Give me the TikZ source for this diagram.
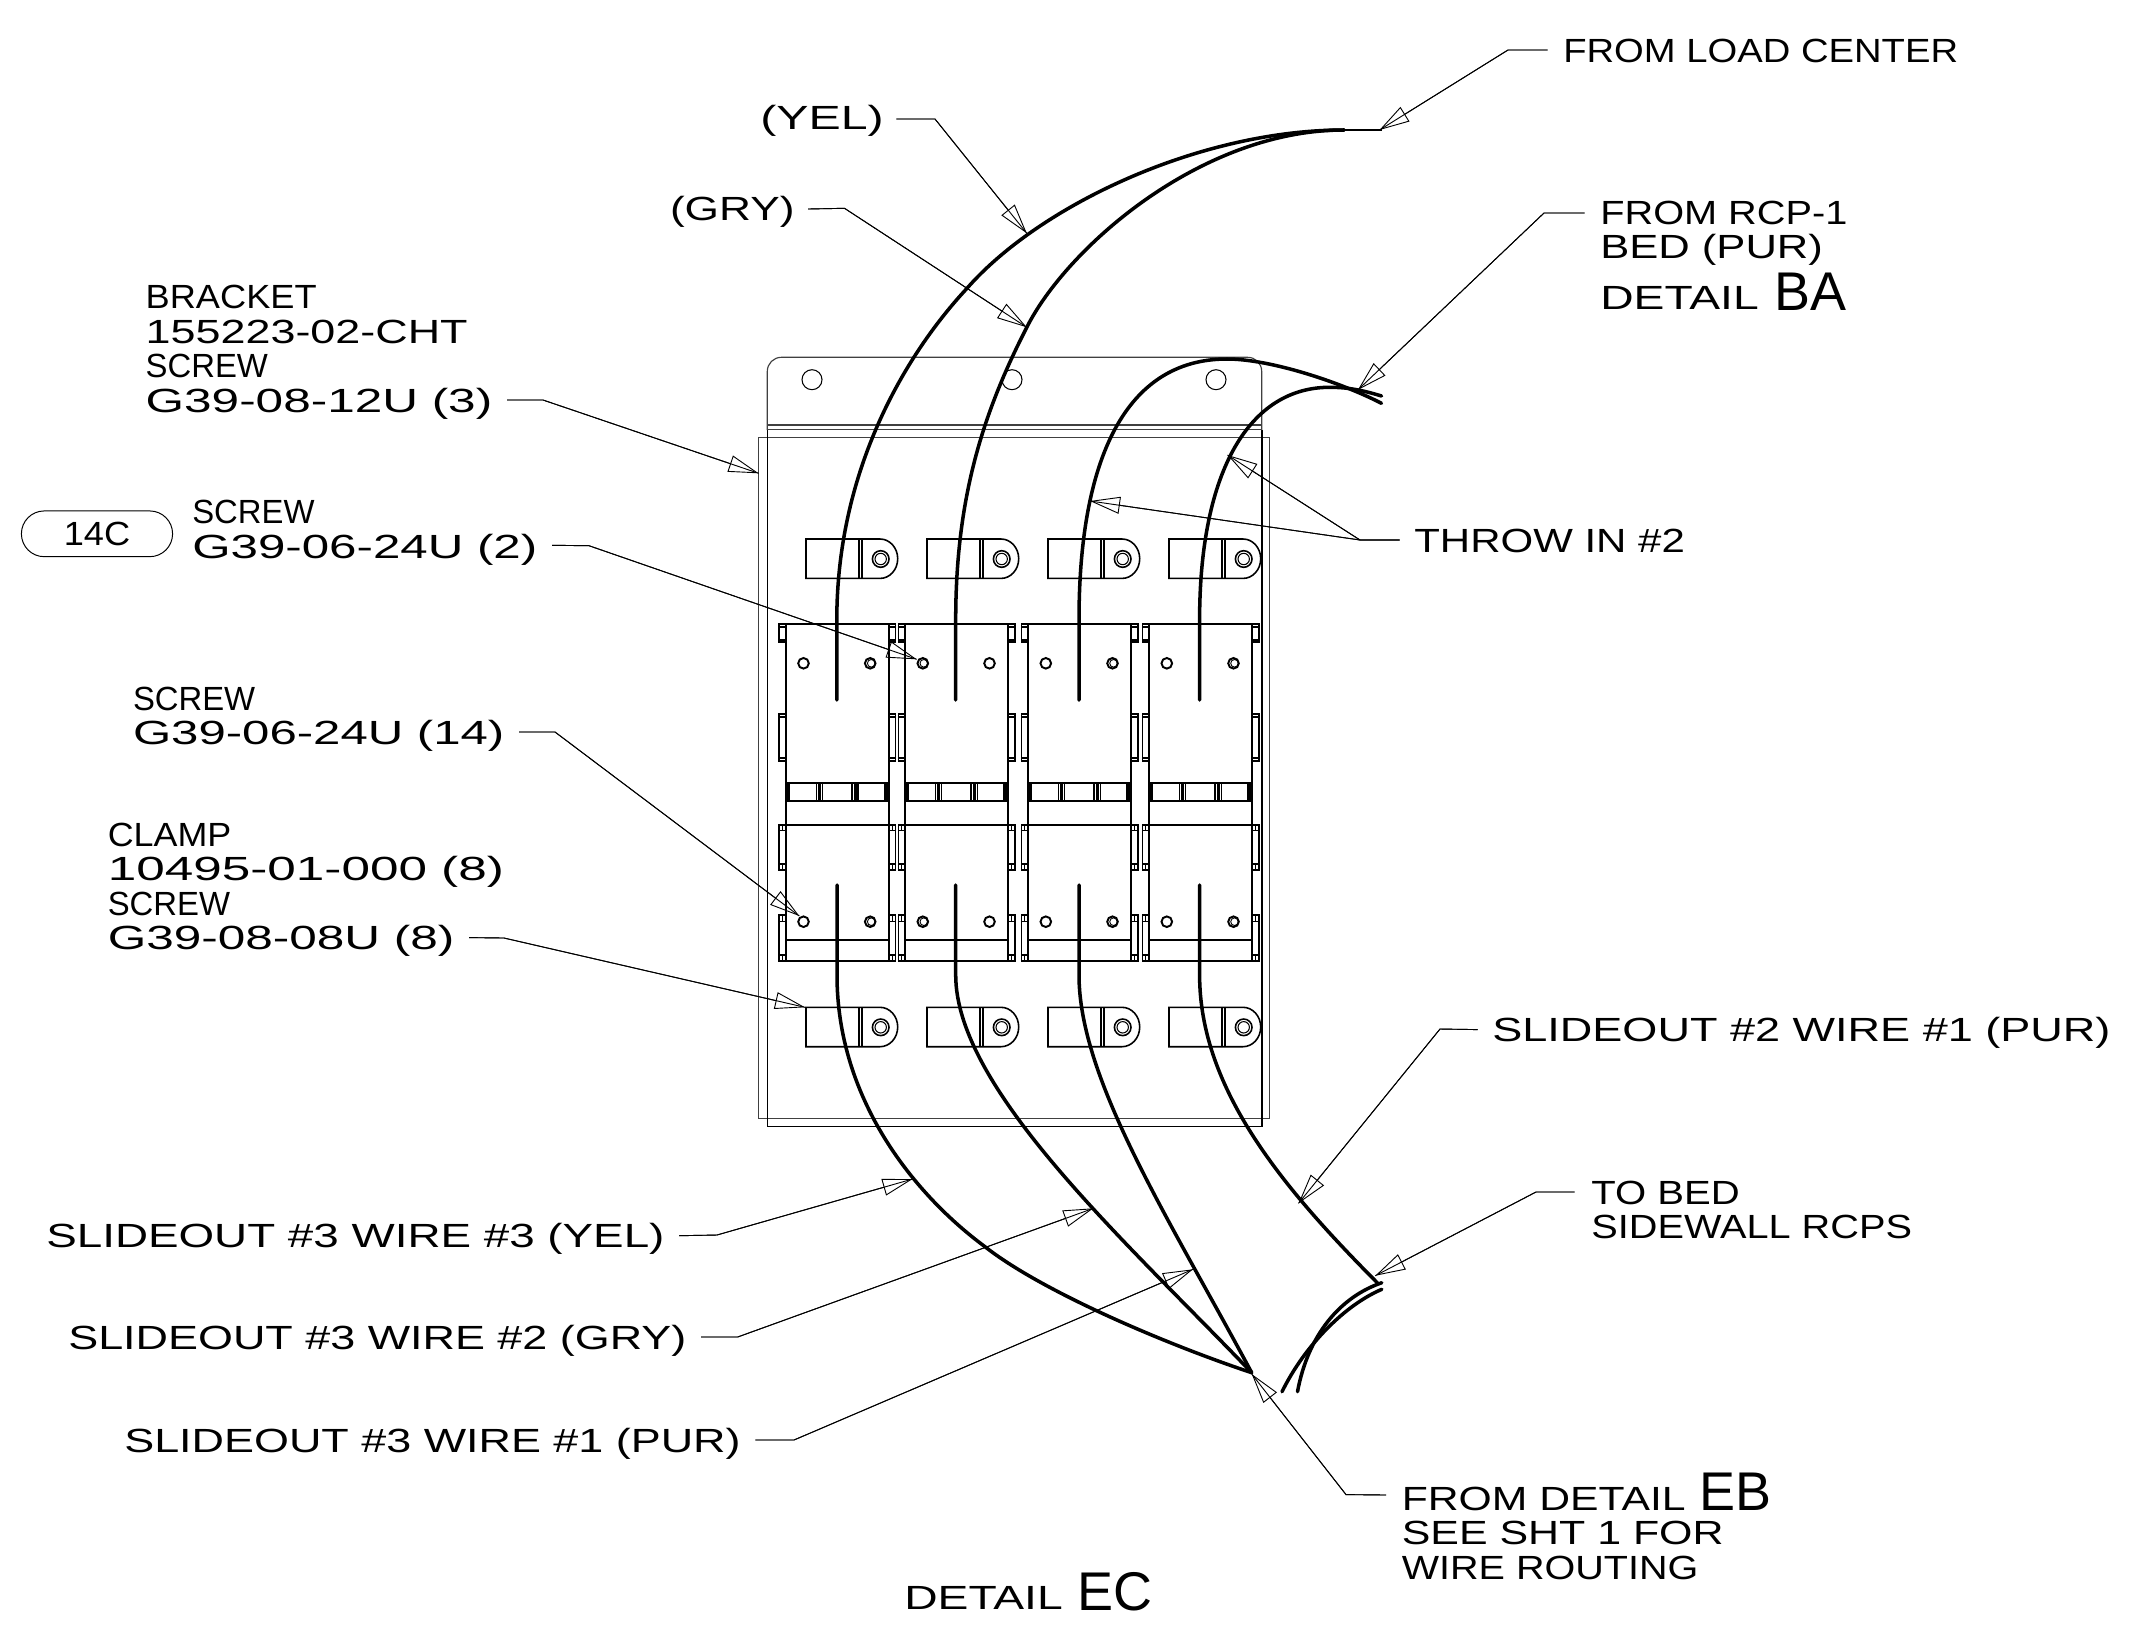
\documentclass[tikz,border=0pt]{standalone}
\usepackage{fontspec}
\usetikzlibrary{arrows.meta}
\setmainfont{Liberation Sans}
\newcommand\tf[1]{\fontspec[FakeStretch=#1]{Liberation Sans}\fontsize{9.53}{11}\selectfont}
\newcommand\bigf{\fontspec[FakeStretch=0.99]{Liberation Sans}\fontsize{15.5}{17}\selectfont}
\tikzset{
  x=0.01cm,y=-0.01cm,
  wt/.style={anchor=base west,inner sep=0pt},
  wire/.style={line width=1.0pt,line cap=round,line join=round},
  thinend/.style={line width=0.6pt},
  det/.style={line width=0.45pt,line join=miter},
  plate/.style={line width=0.33pt,draw=black!75},
  lead/.style={line width=0.26pt,postaction={draw,-{Triangle[open,length=0.30cm,width=0.17cm]}}},
  pill/.style={draw,line width=0.28pt,rounded corners=0.228cm,minimum width=1.511cm,minimum height=0.457cm,inner sep=0pt},
}
\begin{document}
\begin{tikzpicture}
\useasboundingbox (0,0) rectangle (2154,1648);
% plate
\draw[plate] (758.6,437.7) rectangle (1269.5,1118.3);
\draw[det] (767.3,430) -- (767.3,1126.3) -- (1261.7,1126.3) -- (1261.7,430);
\draw[plate] (767.3,425) -- (1261.7,425) (767.3,429.3) -- (1261.7,429.3);
\draw[plate] (767.3,430) -- (767.3,371.3) arc[start angle=180,end angle=270,radius=14] -- (1247.7,357.3) arc[start angle=270,end angle=360,radius=14] -- (1261.7,430);
\foreach \h in {812,1012,1216} \draw[line width=0.3pt] (\h,379.7) circle[radius=10];
% clamps
\foreach \c in {806,927,1048,1169}{
  \foreach \t in {539,1007.3}{
    \draw[det] (\c+74,\t) -- (\c,\t) -- (\c,\t+39.4) -- (\c+74,\t+39.4)
      arc[start angle=90,end angle=-90,x radius=17.7,y radius=19.7];
    \draw[det] (\c+52.7,\t) -- (\c+52.7,\t+39.4) (\c+56,\t) -- (\c+56,\t+39.4);
    \draw[det] (\c+74.7,\t+20) circle[radius=8.3];
    \draw[line width=0.3pt] (\c+74.7,\t+20) circle[radius=5.7];
  }
}
% switch units
\foreach \b/\sa/\sb/\sc/\sd in {785.7/0/1/0/1,905/1/0/1/0,1028/0/1/0/1,1149/0/1/0/1}{
  \pgfmathsetmacro\r{\b+103}
  \draw[det] (\b,624) -- (\b,960.7) (\r,624) -- (\r,960.7);
  \draw[line width=0.6pt] (\b,624) -- (\r,624);
  \draw[line width=0.6pt] (\b-6.7,824.7) -- (\r+6.7,824.7) (\b-6.7,960.7) -- (\r+6.7,960.7);
  \draw[det] (\b,939.7) -- (\r,939.7);
  % tabs
  \foreach \xa/\xb in {\b-6.7/\b,\r/\r+6.7}{
    \pgfmathsetmacro\xm{(\xa+\xb)/2}
    \draw[det] (\xa,624) rectangle (\xb,642);
    \draw[line width=0.3pt] (\xa,627) -- (\xb,627) (\xa,640) -- (\xb,640);
    \draw[det] (\xa,714) rectangle (\xb,760.7);
    \draw[line width=0.3pt] (\xa,717) -- (\xb,717) (\xa,758) -- (\xb,758);
    \draw[det] (\xa,824.7) rectangle (\xb,870);
    \draw[line width=0.3pt] (\xa,830.5) -- (\xb,830.5) (\xa,864) -- (\xb,864);
    \draw[det] (\xa,915) rectangle (\xb,960.7);
    \draw[line width=0.3pt] (\xa,921.5) -- (\xb,921.5) (\xa,955) -- (\xb,955);
    \draw[line width=0.3pt] (\xm,824.7) -- (\xm,830.5) (\xm,864) -- (\xm,870) (\xm,915) -- (\xm,921.5) (\xm,955) -- (\xm,960.7);
  }
  % bar
  \draw[det] (\b,783) -- (\r,783) (\b,801) -- (\r,801);
  \foreach \u/\v in {3.6/30.6,36.6/66,72.3/99}{
    \draw[det] (\b+\u,783) rectangle (\b+\v,801);
  }
  \draw[line width=0.8pt] (\b+1.5,783) -- (\b+1.5,801) (\b+33.7,783) -- (\b+33.7,801) (\b+69.5,783) -- (\b+69.5,801) (\r-1.5,783) -- (\r-1.5,801);
  % screws
  \foreach \yy in {663.3,921.7}{
    \draw[line width=0.55pt] (\b+17.8,\yy) circle[radius=5.3];
    \draw[line width=0.55pt] (\b+84.5,\yy) circle[radius=5.3];
  }
  \ifnum\sa=1 \draw[line width=0.25pt] (\b+18.8,663.3) circle[radius=3.8];\fi
  \ifnum\sb=1 \draw[line width=0.25pt] (\b+85.5,663.3) circle[radius=3.8];\fi
  \ifnum\sc=1 \draw[line width=0.25pt] (\b+18.8,921.7) circle[radius=3.8];\fi
  \ifnum\sd=1 \draw[line width=0.25pt] (\b+85.5,921.7) circle[radius=3.8];\fi
}
% upper wires
\draw[wire] (836.8,700) -- (836.8,620) .. controls (836.8,470) and (905,355) .. (967,288.3) .. controls (1040,205) and (1200,130) .. (1344,130);
\draw[wire] (955.7,700) -- (955.7,620) .. controls (955.7,500) and (981.8,415) .. (1026.8,327.3) .. controls (1066,249) and (1200,130) .. (1344,130);
\draw[thinend] (1344,130) -- (1381.5,130);
\draw[wire] (1079,700) -- (1079,620) .. controls (1079,460) and (1125,359) .. (1227,359) .. controls (1270,359) and (1340,382) .. (1381.5,403.3);
\draw[wire] (1199.6,700) -- (1199.6,620) .. controls (1199.6,470) and (1250,387) .. (1330,387.3) .. controls (1350,387.3) and (1365,391) .. (1381.5,396);
% lower wires
\draw[wire] (837,885) -- (837,975) .. controls (837,1100) and (915,1195) .. (985,1246.7) .. controls (1040,1290) and (1160,1342) .. (1251.7,1372.7);
\draw[wire] (955.7,885) -- (955.7,975) .. controls (955.7,1090) and (1130,1245) .. (1251.7,1372.7);
\draw[wire] (1079,885) -- (1079,975) .. controls (1079,1080) and (1170,1220) .. (1251.7,1372.7);
\draw[wire] (1199.6,885) -- (1199.6,975) .. controls (1199.6,1090) and (1285,1190) .. (1377.5,1283);
\draw[wire] (1381.8,1282.7) .. controls (1340,1297) and (1308,1335) .. (1297.5,1391.7);
\draw[wire] (1381.8,1289.3) .. controls (1345,1305) and (1305,1345) .. (1282,1391.7);
% text
\begin{scope}[shift={(-1.4,-1)}]
\node[wt] (tload) at (1564,63) {\tf{1.14}FROM LOAD CENTER};
\node[wt] (tyel) at (761,130) {\tf{1.44}(YEL)};
\node[wt] (tgry) at (670.7,221) {\tf{1.32}(GRY)};
\node[wt] (trcp) at (1601,225) {\tf{1.185}FROM RCP-1};
\node[wt] (tbed) at (1601,259.6) {\tf{1.30}BED (PUR)};
\node[wt] (tdba) at (1601,310.7) {\tf{1.38}DETAIL};
\node[wt] (tba) at (1775,311) {\bigf BA};
\node[wt] (tbr) at (146.4,309.7) {\tf{1.08}BRACKET};
\node[wt] (tbrn) at (146.4,344.7) {\tf{1.34}155223-02-CHT};
\node[wt] (tsc1) at (146.4,378.7) {\tf{0.98}SCREW};
\node[wt] (tg1) at (146.4,413) {\tf{1.477}G39-08-12U (3)};
\node[pill] (p14) at (98.4,534.8) {\tf{1.08}14C};
\node[wt] (tsc2) at (193,524.7) {\tf{0.98}SCREW};
\node[wt] (tg2) at (193,559.3) {\tf{1.47}G39-06-24U (2)};
\node[wt] (tthrow) at (1415,553) {\tf{1.253}THROW IN \#2};
\node[wt] (tsc3) at (133.7,711.6) {\tf{0.98}SCREW};
\node[wt] (tg3) at (133.7,745) {\tf{1.466}G39-06-24U (14)};
\node[wt] (tcl) at (108.5,847.7) {\tf{1.07}CLAMP};
\node[wt] (tcln) at (108.5,881.7) {\tf{1.53}10495-01-000 (8)};
\node[wt] (tsc4) at (108.5,916.3) {\tf{0.98}SCREW};
\node[wt] (tg4) at (108.5,950.6) {\tf{1.477}G39-08-08U (8)};
\node[wt] (ts2) at (1493,1042.6) {\tf{1.344}SLIDEOUT \#2 WIRE \#1 (PUR)};
\node[wt] (tbed2) at (1592,1205) {\tf{1.196}TO BED};
\node[wt] (tside) at (1592,1239) {\tf{1.185}SIDEWALL RCPS};
\node[wt] (ts33) at (47,1248.7) {\tf{1.366}SLIDEOUT \#3 WIRE \#3 (YEL)};
\node[wt] (ts32) at (69,1350) {\tf{1.34}SLIDEOUT \#3 WIRE \#2 (GRY)};
\node[wt] (ts31) at (125,1453) {\tf{1.34}SLIDEOUT \#3 WIRE \#1 (PUR)};
\node[wt] (tfrom) at (1402.5,1511) {\tf{1.274}FROM DETAIL};
\node[wt] (teb) at (1700,1511.7) {\bigf EB};
\node[wt] (tsee) at (1402.5,1545.4) {\tf{1.28}SEE SHT 1 FOR};
\node[wt] (twr) at (1402.5,1580) {\tf{1.18}WIRE ROUTING};
\node[wt] (tdec) at (905,1610) {\tf{1.38}DETAIL};
\node[wt] (tec) at (1078,1611) {\bigf EC};
\end{scope}
% leader ends
\coordinate (eload) at (1379.5,130);
\coordinate (eyel) at (1026.8,233.3);
\coordinate (egry) at (1026.8,327.3);
\coordinate (ercp) at (1357.8,390);
\coordinate (ethA) at (1090,501);
\coordinate (ethB) at (1227.5,455);
\coordinate (ebr) at (758.6,473.3);
\coordinate (esc2) at (916.7,659.3);
\coordinate (esc3) at (799.3,916);
\coordinate (ecl) at (805,1007.3);
\coordinate (es2) at (1298.5,1203.3);
\coordinate (ebed) at (1375.3,1275.7);
\coordinate (efrom) at (1251.7,1374);
\coordinate (es33) at (912.6,1179);
\coordinate (es32) at (1093.4,1208.3);
\coordinate (es31) at (1193,1269.3);
% leaders
\draw[lead] (tload.base west) ++(-15,-12) -- (1508,50) -- (eload);
\draw[lead] (tyel.base east) ++(12,-10) -- (935,119) -- (eyel);
\draw[lead] (tgry.base east) ++(13,-11) -- (844.5,208.3) -- (egry);
\draw[lead] (trcp.base west) ++(-15,-11) -- (1544,213) -- (ercp);
\draw[lead] (tthrow.base west) ++(-14,-12) -- (1360,540) -- (ethA);
\draw[lead] (tthrow.base west) ++(-14,-12) -- (1360,540) -- (ethB);
\draw[lead] (tg1.base east) ++(14,-12) -- (543,400) -- (ebr);
\draw[lead] (tg2.base east) ++(14,-13) -- (589,545.7) -- (esc2);
\draw[lead] (tg3.base east) ++(14,-12) -- (555,732) -- (esc3);
\draw[lead] (tg4.base east) ++(14,-12) -- (504,938) -- (ecl);
\draw[lead] (ts2.base west) ++(-14,-12) -- (1440,1029) -- (es2);
\draw[lead] (tbed2.base west) ++(-16,-12) -- (1536,1192) -- (ebed);
\draw[lead] (tfrom.base west) ++(-15,-15) -- (1346,1494.6) -- (efrom);
\draw[lead] (ts33.base east) ++(14,-12) -- (717,1235) -- (es33);
\draw[lead] (ts32.base east) ++(14,-12) -- (737.7,1337) -- (es32);
\draw[lead] (ts31.base east) ++(14,-12) -- (794,1440) -- (es31);
\end{tikzpicture}
\end{document}
